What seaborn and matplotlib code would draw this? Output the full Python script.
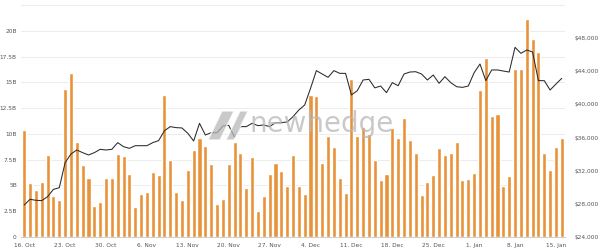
import matplotlib
matplotlib.use("Agg")
import matplotlib.pyplot as plt
import seaborn as sns
import pandas as pd
import numpy as np
from matplotlib.patches import Polygon

# ---- data ----
start_date = "2023-10-16"
volume_b = [10.41, 5.22, 4.57, 5.38, 7.98, 4.02, 3.60, 14.36, 15.92, 9.24,
            7.00, 5.71, 3.02, 3.44, 5.71, 5.77, 8.07, 7.88, 6.13, 2.95,
            4.18, 4.38, 6.32, 6.03, 13.78, 7.49, 4.35, 3.63, 6.52, 8.40,
            9.63, 8.85, 7.10, 3.24, 3.73, 7.04, 9.18, 8.14, 4.73, 7.75,
            2.56, 3.99, 6.13, 7.17, 6.39, 4.90, 7.98, 4.99, 4.15, 13.81,
            13.72, 7.17, 9.82, 8.75, 5.71, 4.25, 15.34, 9.76, 10.64, 9.95,
            7.49, 5.54, 6.13, 10.57, 9.57, 11.58, 9.37, 8.11, 4.09, 5.35,
            6.03, 8.59, 7.98, 8.11, 9.24, 5.54, 5.64, 6.19, 14.23, 17.38,
            11.77, 11.96, 4.90, 5.87, 16.25, 16.31, 21.17, 19.23, 17.93, 8.14,
            6.52, 8.69, 9.63]
price_usd = [27860, 28550, 28430, 28390, 28870, 29750, 29950, 32970, 34020, 34500,
             34180, 33900, 34180, 34580, 34500, 34580, 35390, 34900, 34700, 35020,
             35020, 35020, 35390, 35630, 36830, 37320, 37200, 37160, 36510, 35590,
             37720, 36310, 36590, 36590, 37400, 37480, 36030, 37320, 37320, 37720,
             37440, 37520, 37320, 37800, 37800, 37880, 38520, 39330, 39930, 41940,
             44080, 43670, 43270, 44080, 43750, 43750, 41140, 41660, 42950, 43030,
             42000, 42220, 41420, 42630, 42260, 43670, 43910, 43950, 43670, 42950,
             43550, 42550, 43350, 42630, 42140, 42060, 42220, 43830, 44880, 42870,
             44160, 44160, 44030, 43910, 46890, 46170, 46570, 46330, 42870, 42870,
             41740, 42460, 43150]
x_tick_labels = ["16. Oct", "23. Oct", "30. Oct", "6. Nov", "13. Nov", "20. Nov",
                 "27. Nov", "4. Dec", "11. Dec", "18. Dec", "25. Dec", "1. Jan",
                 "8. Jan", "15. Jan"]
left_ticks = [0, 2.5, 5, 7.5, 10, 12.5, 15, 17.5, 20]
left_tick_labels = ["0", "2.5B", "5B", "7.5B", "10B", "12.5B", "15B", "17.5B", "20B"]
right_ticks = [24000, 28000, 32000, 36000, 40000, 44000, 48000]
right_tick_labels = ["$24,000", "$28,000", "$32,000", "$36,000", "$40,000", "$44,000", "$48,000"]

dates = pd.date_range(start_date, periods=len(volume_b), freq="D")
df = pd.DataFrame({"date": dates, "pos": np.arange(len(volume_b)),
                   "volume": volume_b, "price": price_usd})

sns.set_style("white")
plt.rcParams["font.family"] = ["DejaVu Sans"]

fig = plt.figure(figsize=(6.0, 2.52), dpi=100)
ax = fig.add_axes([21 / 600, 15 / 252, 544 / 600, 232 / 252])

bar_color = "#E8933A"
sns.barplot(data=df, x="pos", y="volume", color=bar_color, width=0.7,
            saturation=1, ax=ax, zorder=2)

ax.set_ylim(0, 22.5)
ax.set_xlim(-0.55, len(volume_b) - 1 + 0.55)
ax.set_yticks(left_ticks + [22.5])
ax.set_yticklabels(left_tick_labels + [""])
ax.grid(axis="y", color="#ececec", linewidth=0.7, zorder=0)
ax.set_axisbelow(True)
tick_pos = [i for i, d in enumerate(dates) if (d - dates[0]).days % 7 == 0]
ax.set_xticks(tick_pos)
ax.set_xticklabels(x_tick_labels)
ax.set_xlabel("")
ax.set_ylabel("")
for s in ["top", "right", "left"]:
    ax.spines[s].set_visible(False)
ax.spines["bottom"].set_color("#cccccc")
ax.spines["bottom"].set_linewidth(0.7)
ax.tick_params(axis="x", colors="#555555", labelsize=4.2, length=3, width=0.6,
               pad=1, color="#cccccc")
ax.tick_params(axis="y", colors="#555555", labelsize=4.2, length=0, pad=3)

ax2 = ax.twinx()
sns.lineplot(data=df, x="pos", y="price", color="#2a2a2a", linewidth=0.75, ax=ax2,
             zorder=3)
ax2.set_ylim(24000, 52000)
ax2.set_xlim(ax.get_xlim())
ax2.set_yticks(right_ticks)
ax2.set_yticklabels(right_tick_labels)
ax2.set_ylabel("")
ax2.set_xlabel("")
for s in ["top", "right", "left", "bottom"]:
    ax2.spines[s].set_visible(False)
ax2.tick_params(axis="y", colors="#555555", labelsize=4.2, length=0, pad=7)

# watermark
fig.text(250 / 600, 1 - 124 / 252, "newhedge", fontsize=20, color="#b8b8b8",
         alpha=0.75, va="center", ha="left", zorder=10, family="DejaVu Sans")
p1 = Polygon([[208, 140], [222, 111], [234, 111], [220, 140]], closed=True,
             transform=None, facecolor="#b8b8b8", alpha=0.75, zorder=10)
p2 = Polygon([[226, 140], [240, 111], [248, 111], [234, 140]], closed=True,
             transform=None, facecolor="#b8b8b8", alpha=0.75, zorder=10)
for p in (p1, p2):
    p.set_xy(np.array([[x, 252 - y] for x, y in p.get_xy()]))
    fig.patches.append(p)

fig.savefig("out.png", dpi=100)
